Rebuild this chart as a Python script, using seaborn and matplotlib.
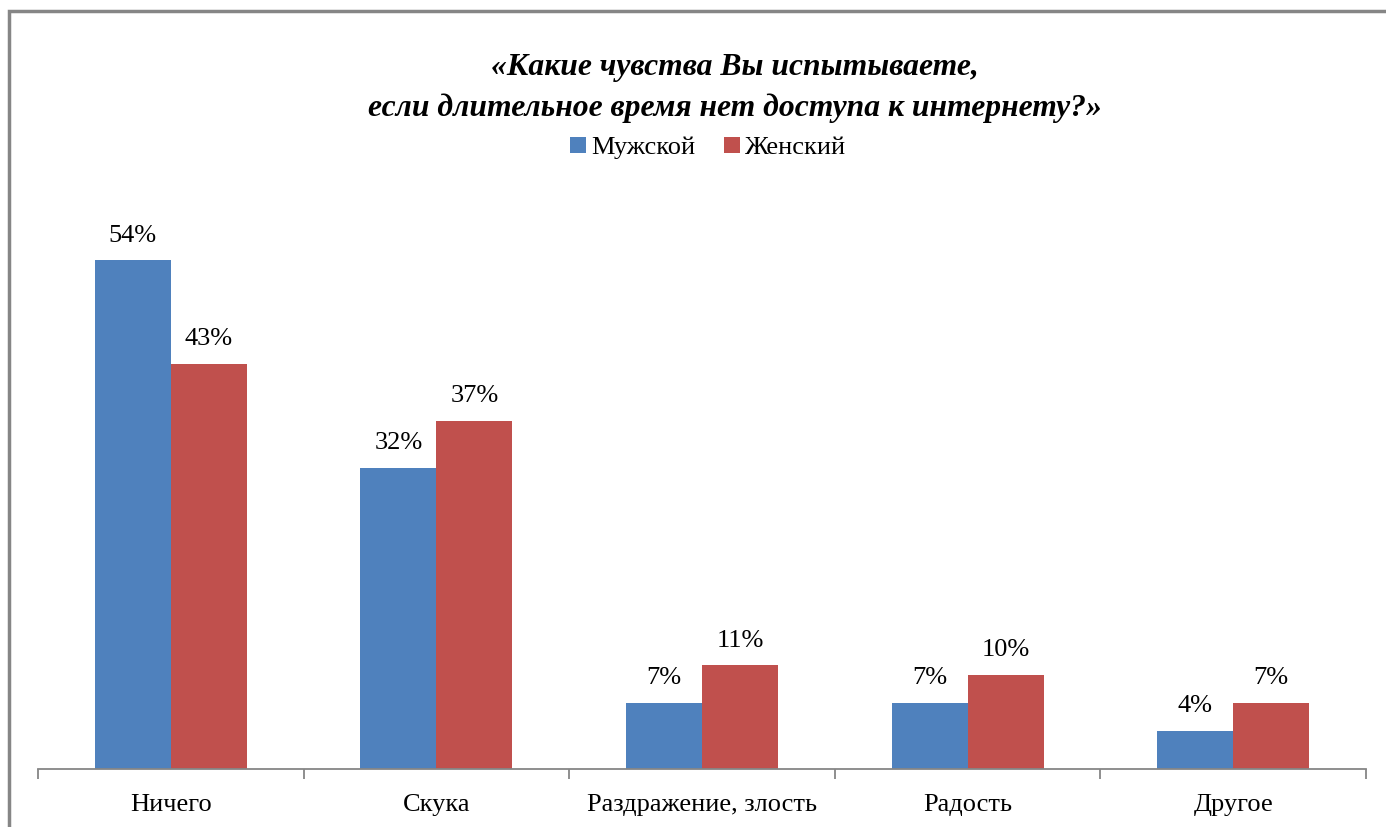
import matplotlib.pyplot as plt
import numpy as np
import pandas as pd
import seaborn as sns
from matplotlib.patches import Patch, Rectangle

categories = ["Ничего", "Скука", "Раздражение, злость", "Радость", "Другое"]
male = [54, 32, 7, 7, 4]
female = [43, 37, 11, 10, 7]
series = ["Мужской", "Женский"]
colors = ["#4F81BD", "#C0504D"]

df = pd.DataFrame({
    "cat": categories * 2,
    "val": male + female,
    "sex": [series[0]] * 5 + [series[1]] * 5,
})

sns.set_theme(style="white")
plt.rcParams["font.family"] = ["Liberation Serif", "DejaVu Serif"]
plt.rcParams["text.color"] = "black"

fig = plt.figure(figsize=(13.86, 8.27), dpi=100)
ax = fig.add_axes([38 / 1386, 58 / 827, 1328 / 1386, 565 / 827])

sns.barplot(data=df, x="cat", y="val", hue="sex", palette=colors, width=0.572,
            saturation=1, linewidth=0, legend=False, ax=ax)

for c in ax.containers:
    ax.bar_label(c, labels=[f"{int(v)}%" for v in c.datavalues], padding=10,
                 fontsize=19, color="black")

ax.set_xlim(-0.5, 4.5)
ax.set_ylim(0, 60)
ax.set_xlabel("")
ax.set_ylabel("")
ax.set_yticks([])
for s in ["top", "right", "left"]:
    ax.spines[s].set_visible(False)
ax.spines["bottom"].set_color("#868686")
ax.spines["bottom"].set_linewidth(1.3)
ax.set_xticks(range(5))
ax.set_xticklabels(categories, fontsize=19, color="black")
ax.tick_params(axis="x", which="major", length=0, pad=18)
ax.set_xticks(np.arange(-0.5, 5, 1), minor=True)
ax.tick_params(axis="x", which="minor", length=7, width=1.3, color="#868686",
               direction="out", bottom=True)

fig.text(735 / 1386, 1 - 88 / 827,
         "«Какие чувства Вы испытываете,\nесли длительное время нет доступа к интернету?»",
         ha="center", va="center", fontsize=22.8, fontweight="bold", style="italic",
         linespacing=1.52, color="black")

handles = [Patch(facecolor=col, edgecolor="none") for col in colors]
fig.legend(handles, series, loc="center", bbox_to_anchor=(708 / 1386, 1 - 148 / 827),
           ncol=2, frameon=False, fontsize=19, handlelength=0.6, handleheight=0.6,
           handletextpad=0.2, columnspacing=1.1, labelcolor="black")

fig.patches.append(Rectangle((9 / 1386, -0.1), 1.5, 1 - 11 / 827 + 0.1,
                             transform=fig.transFigure, fill=False,
                             edgecolor="#868686", linewidth=2.5, zorder=10))

fig.savefig("out.png", dpi=100)
